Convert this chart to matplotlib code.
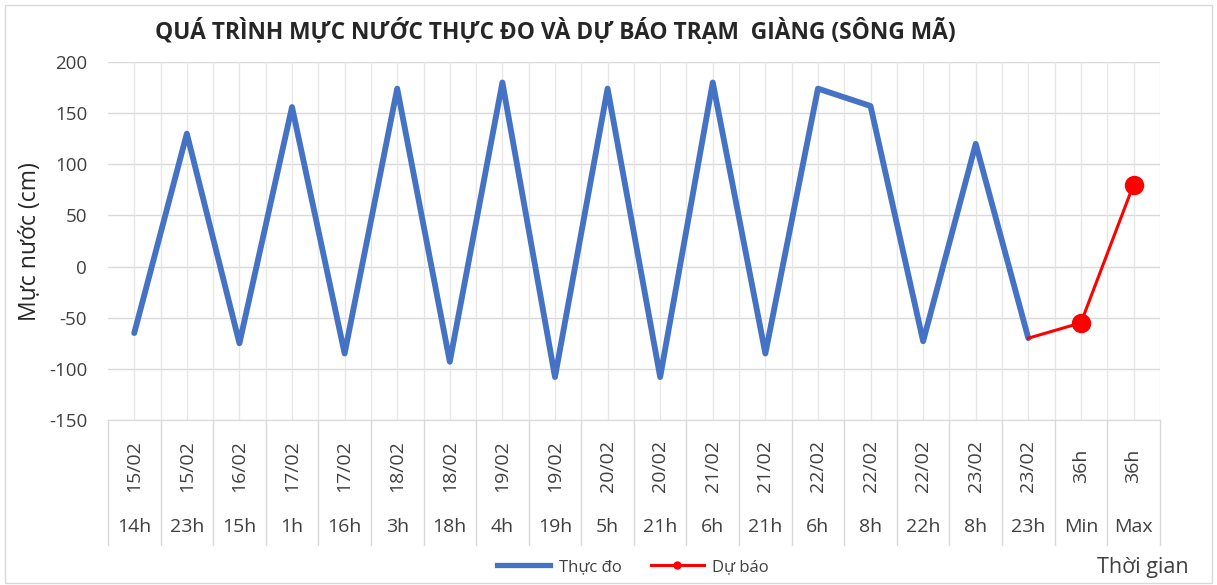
import matplotlib
matplotlib.use("Agg")
import matplotlib.pyplot as plt
import matplotlib.transforms as mtransforms
from matplotlib.patches import Rectangle
from matplotlib.lines import Line2D

plt.rcParams['font.family'] = ['Open Sans', 'DejaVu Sans']
plt.rcParams['axes.unicode_minus'] = False

# --- Data ---
dates = ["15/02", "15/02", "16/02", "17/02", "17/02", "18/02", "18/02", "19/02", "19/02",
         "20/02", "20/02", "21/02", "21/02", "22/02", "22/02", "22/02", "23/02", "23/02",
         "36h", "36h"]
hours = ["14h", "23h", "15h", "1h", "16h", "3h", "18h", "4h", "19h", "5h", "21h", "6h",
         "21h", "6h", "8h", "22h", "8h", "23h", "Min", "Max"]
observed = [-65, 130, -75, 156, -85, 174, -93, 180, -108, 174, -108, 180, -85, 174, 157,
            -73, 120, -70]
forecast_idx = [17, 18, 19]
forecast = [-70, -55, 80]

fig = plt.figure(figsize=(12.17, 5.85), dpi=100)
ax = fig.add_axes([0.0887, 0.282, 0.8643, 0.612])

x = list(range(len(dates)))
ax.plot(x[:len(observed)], observed, color='#4472C4', lw=4.2, solid_joinstyle='round',
        solid_capstyle='round', zorder=3)
ax.plot(forecast_idx, forecast, color='#FF0000', lw=2.2, zorder=4)
ax.plot(forecast_idx[1:], forecast[1:], 'o', color='#FF0000', ms=13, zorder=5)

ax.set_xlim(-0.5, len(dates) - 0.5)
ax.set_ylim(-150, 200)
ax.set_yticks(range(-150, 201, 50))
ax.tick_params(axis='y', length=0, labelsize=13.5, colors='#404040', pad=15)
ax.set_xticks([])

# grid
for yv in range(-150, 201, 50):
    ax.axhline(yv, color='#d9d9d9', lw=1, zorder=0)
for i in range(len(dates)):
    ax.axvline(i, color='#e6e6e6', lw=0.9, zorder=0)
    ax.axvline(i + 0.5, color='#e6e6e6', lw=0.9, zorder=0)

for s in ['top', 'right', 'left']:
    ax.spines[s].set_visible(False)
ax.spines['bottom'].set_color('#d9d9d9')

# category labels (two levels)
trans = mtransforms.blended_transform_factory(ax.transData, fig.transFigure)
for i, (d, h) in enumerate(zip(dates, hours)):
    ax.text(i, 1 - 466 / 585, d, transform=trans, rotation=90, ha='center', va='center',
            fontsize=14, color='#404040')
    ax.text(i, 1 - 527 / 585, h, transform=trans, ha='center', va='center',
            fontsize=14, color='#404040')
for i in range(len(dates) + 1):
    ax.plot([i - 0.5, i - 0.5], [1 - 420 / 585, 1 - 545 / 585], transform=trans,
            color='#d9d9d9', lw=1, clip_on=False)

fig.text(30 / 1217, 1 - 242 / 585, 'Mực nước (cm)', rotation=90, ha='center', va='center',
         fontsize=16.5, color='#262626')

fig.text(555 / 1217, 1 - 31 / 585,
         'QUÁ TRÌNH MỰC NƯỚC THỰC ĐO VÀ DỰ BÁO TRẠM  GIÀNG (SÔNG MÃ)',
         ha='center', va='center', fontsize=16.4, fontweight='bold', color='#262626')

handles = [Line2D([], [], color='#4472C4', lw=3.8),
           Line2D([], [], color='#FF0000', lw=2.2, marker='o', ms=5)]
fig.legend(handles, ['Thực đo', 'Dự báo'], loc='center',
           bbox_to_anchor=(633 / 1217, 1 - 567 / 585), ncol=2, frameon=False,
           fontsize=12, handlelength=3.2, handletextpad=0.5, columnspacing=1.75,
           labelcolor='#404040')

fig.text(1143 / 1217, 1 - 567 / 585, 'Thời gian', ha='center', va='center',
         fontsize=15.5, color='#404040')

fig.patches.append(Rectangle((0.004, 0.004), 0.992, 0.987, transform=fig.transFigure,
                             fill=False, edgecolor='#d9d9d9', lw=1))

fig.savefig('out.png', dpi=100)
